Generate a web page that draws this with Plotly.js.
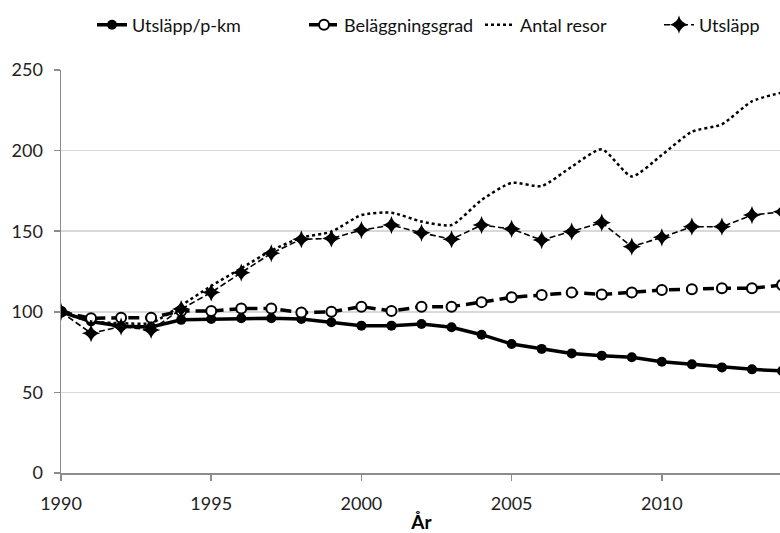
<!DOCTYPE html>
<html>
<head>
<meta charset="utf-8">
<script src="https://cdn.plot.ly/plotly-3.0.1.min.js"></script>
<style>
html,body{margin:0;padding:0;overflow:hidden;background:#fff;}
#chart{width:782px;height:533px;}
</style>
</head>
<body>
<div id="chart"></div>
<script>
const years = [1990,1991,1992,1993,1994,1995,1996,1997,1998,1999,2000,2001,2002,2003,2004,2005,2006,2007,2008,2009,2010,2011,2012,2013,2014];
const utslappPerPkm = [100,94,91,90.6,95,95.5,96,96,95.5,93.5,91.4,91.4,92.4,90.4,85.8,80,77,74.2,72.8,71.8,69,67.4,65.5,64.3,63.3];
const belaggningsgrad = [100,96,96.3,96.3,100.5,100.5,102,102,99.5,100,103.2,100.5,103.2,103.2,106,109,110.4,111.9,110.8,112,113.5,114,114.6,114.6,116.6];
const antalResor = [100,94,93,93,104,116,127,138,146,149.7,160,161.5,156,153.8,169.4,180,178,190,200.8,184,197.3,211.7,216.3,230.6,236];
const utslapp = [100,86.7,90.8,88.7,101.7,112,124.3,136.3,145,145.5,150.7,153.8,149,145,153.8,151.4,144.5,149.7,155.3,140.4,146.2,152.8,152.8,160,162];
const seriesNames = ["Utsläpp/p-km","Beläggningsgrad","Antal resor","Utsläpp"];
const xTicks = [1990,1995,2000,2005,2010];
const yTicks = [0,50,100,150,200,250];

const FONT = "Lato, 'Open Sans', sans-serif";
const traces = [
  {x: years, y: utslappPerPkm, name: seriesNames[0], mode: "lines+markers", legend: "legend",
   line: {color: "#000", width: 3.5},
   marker: {symbol: "circle", size: 10, color: "#000"}},
  {x: years, y: belaggningsgrad, name: seriesNames[1], mode: "lines+markers", legend: "legend2",
   line: {color: "#000", width: 3.5, dash: "11px,6px"},
   marker: {symbol: "circle", size: 10, color: "#fff", line: {color: "#000", width: 2}}},
  {x: years, y: antalResor, name: seriesNames[2], mode: "lines", legend: "legend3",
   line: {color: "#000", width: 2.5, dash: "dot", shape: "spline", smoothing: 0.6}},
  {x: years, y: utslapp, name: seriesNames[3], mode: "lines+markers", legend: "legend4",
   line: {color: "#000", width: 1.6, dash: "6px,3px"},
   marker: {symbol: "star-diamond", size: 13, color: "#000"}}
];

function leg(xpx){
  return {x: xpx/782, xref: "container", xanchor: "left", y: 1 - 25/533, yref: "container", yanchor: "middle",
    orientation: "h", bgcolor: "rgba(0,0,0,0)", borderwidth: 0,
    font: {family: FONT, size: 18, color: "#111"}};
}

const layout = {
  width: 782, height: 533,
  margin: {l: 61, r: 0, t: 70, b: 60},
  paper_bgcolor: "#fff", plot_bgcolor: "#fff",
  font: {family: FONT, color: "#222"},
  showlegend: true,
  legend: leg(92),
  legend2: leg(304),
  legend3: leg(480),
  legend4: leg(659),
  xaxis: {
    range: [1990, 2014], tickvals: xTicks, ticktext: xTicks.map(String),
    showgrid: false, zeroline: false, showline: true, linecolor: "#8c8c8c", linewidth: 1.5,
    ticks: "outside", ticklen: 6, tickcolor: "#8c8c8c", tickwidth: 1.5,
    tickfont: {family: FONT, size: 18, color: "#222"}, ticklabelstandoff: 8,
    title: {text: "<b>År</b>", font: {family: FONT, size: 19, color: "#000"}, standoff: 4}
  },
  yaxis: {
    range: [0, 250], tickvals: yTicks, ticktext: yTicks.map(String),
    showgrid: true, gridcolor: "#d9d9d9", gridwidth: 1.5, zeroline: false,
    showline: true, linecolor: "#8c8c8c", linewidth: 1.5,
    ticks: "outside", ticklen: 6, tickcolor: "#8c8c8c", tickwidth: 1.5,
    tickfont: {family: FONT, size: 18, color: "#222"}, ticklabelstandoff: 7
  }
};

Plotly.newPlot("chart", traces, layout, {displayModeBar: false, staticPlot: true});
</script>
</body>
</html>
